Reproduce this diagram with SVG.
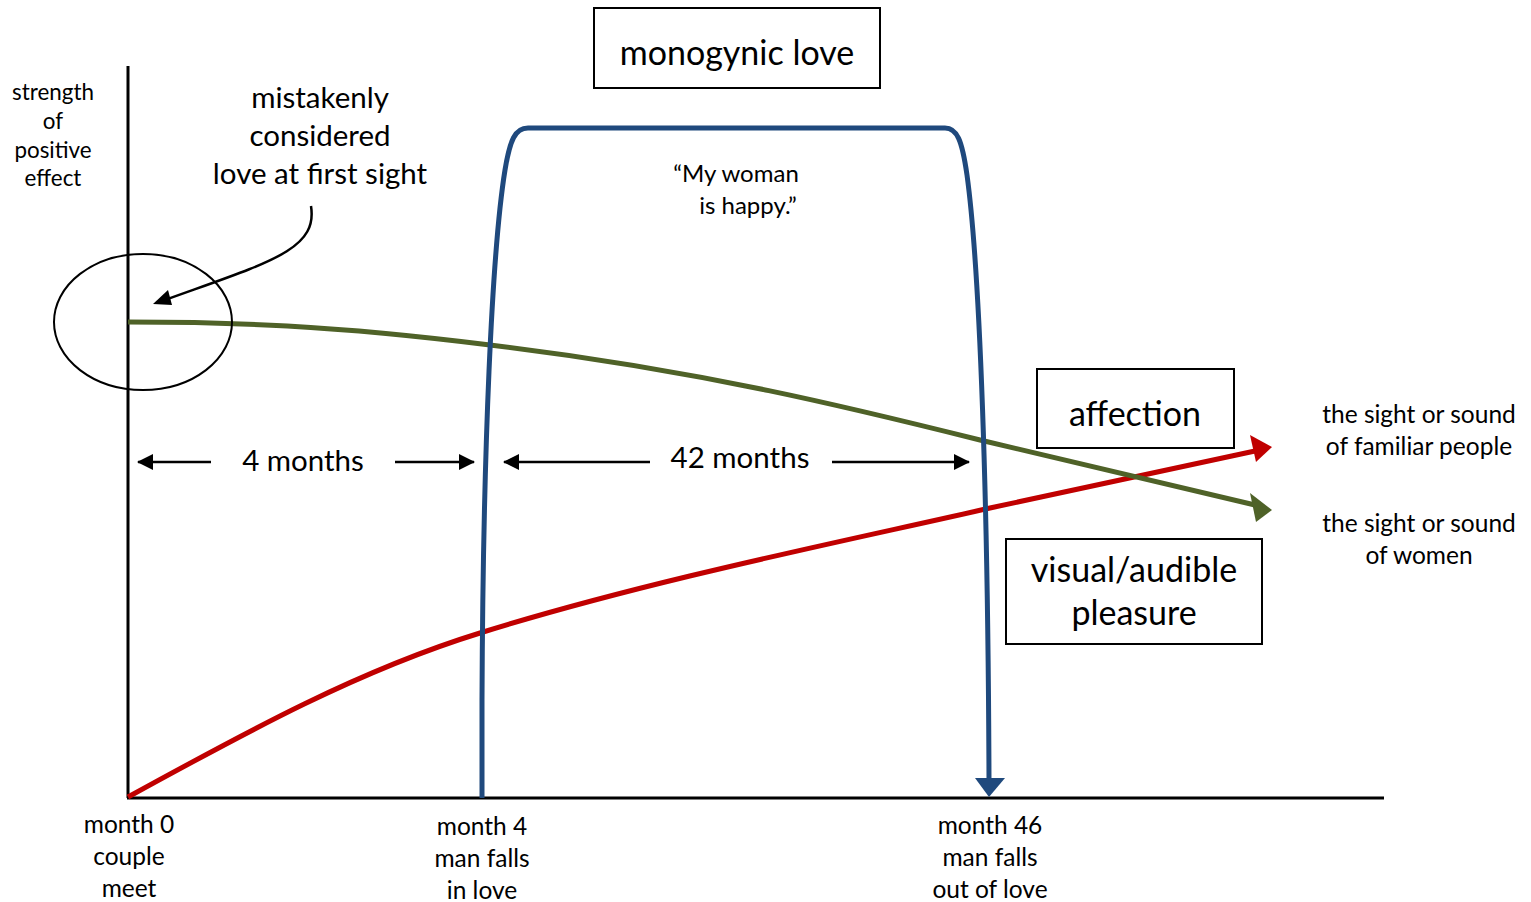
<svg xmlns="http://www.w3.org/2000/svg" width="1531" height="902" viewBox="0 0 1531 902">
<defs>
<style>
text{font-family:Lato,"Open Sans","Liberation Sans",sans-serif;fill:#000;text-anchor:middle}
.box{fill:#fff;stroke:#000;stroke-width:2}
.big{font-size:34px}
.mid{font-size:29.5px}
.sm{font-size:24.5px}
.xs{font-size:22.4px}
.q{font-size:24px}
.axis{stroke:#000;stroke-width:3;fill:none}
.dim{stroke:#000;stroke-width:2.5;fill:none}
</style>
<marker id="ahd" markerWidth="16" markerHeight="16" refX="15" refY="8" orient="auto" markerUnits="userSpaceOnUse" viewBox="0 0 16 16"><path d="M0,0 L16,8 L0,16 z" fill="#000"/></marker>
</defs>
<g id="axes">
<line class="axis" x1="128" y1="66" x2="128" y2="798"/>
<line class="axis" x1="127" y1="798" x2="1384" y2="798"/>
</g>
<g id="connectors">
<path d="M128,797 C250,730 360,670 480,633 C650,580 850,540 990,508 L1255,451" fill="none" stroke="#C00000" stroke-width="5"/>
<path d="M1272,447 L1250,435 L1256,462 z" fill="#C00000"/>
<path d="M128,322 C230,322 330,325 490,345 C700,370 860,410 980,440 L1255,505" fill="none" stroke="#4F6228" stroke-width="5"/>
<path d="M1272,510 L1256,522 L1250,493 z" fill="#4F6228"/>
<path d="M482,798 L482,700 C483,450 492,250 505,170 C510,140 515,128 528,128 L945,128 C957,128 962,140 967,175 C980,270 988,500 989,780" fill="none" stroke="#1F497D" stroke-width="5"/>
<path d="M975,778 L1005,778 L989,797 z" fill="#1F497D"/>
<path class="dim" d="M211,462 L138,462" marker-end="url(#ahd)"/>
<path class="dim" d="M395,462 L474,462" marker-end="url(#ahd)"/>
<path class="dim" d="M650,462 L504,462" marker-end="url(#ahd)"/>
<path class="dim" d="M832,462 L969,462" marker-end="url(#ahd)"/>
<path d="M311,206 C318,250 270,262 165,300" fill="none" stroke="#000" stroke-width="2.5"/>
<path d="M153,304 L168,290 L172,305 z" fill="#000"/>
</g>
<g id="ellipse-node"><ellipse cx="143" cy="322" rx="89" ry="68" fill="none" stroke="#000" stroke-width="2"/></g>
<g id="ylabel">
<text class="xs" x="53" y="100">strength</text>
<text class="xs" x="53" y="129">of</text>
<text class="xs" x="53" y="158">positive</text>
<text class="xs" x="53" y="186">effect</text>
</g>
<g id="callout">
<text class="mid" x="320" y="108">mistakenly</text>
<text class="mid" x="320" y="146">considered</text>
<text class="mid" x="320" y="184">love at first sight</text>
</g>
<g id="monogynic">
<rect class="box" x="594" y="8" width="286" height="80"/>
<text class="big" x="737" y="65">monogynic love</text>
</g>
<g id="quote">
<text class="q" x="736" y="182">“My woman</text>
<text class="q" x="748" y="214">is happy.”</text>
</g>
<g id="affection">
<rect class="box" x="1037" y="369" width="197" height="79"/>
<text class="big" x="1135" y="426">affection</text>
</g>
<g id="pleasure">
<rect class="box" x="1006" y="539" width="256" height="105"/>
<text class="big" x="1134" y="582">visual/audible</text>
<text class="big" x="1134" y="625">pleasure</text>
</g>
<g id="familiar">
<text class="sm" x="1419" y="423">the sight or sound</text>
<text class="sm" x="1419" y="455">of familiar people</text>
</g>
<g id="women">
<text class="sm" x="1419" y="532">the sight or sound</text>
<text class="sm" x="1419" y="564">of women</text>
</g>
<g id="durations">
<text class="mid" x="303" y="471">4 months</text>
<text class="mid" x="740" y="468">42 months</text>
</g>
<g id="month0">
<text class="sm" x="129" y="833">month 0</text>
<text class="sm" x="129" y="865">couple</text>
<text class="sm" x="129" y="897">meet</text>
</g>
<g id="month4">
<text class="sm" x="482" y="835">month 4</text>
<text class="sm" x="482" y="867">man falls</text>
<text class="sm" x="482" y="899">in love</text>
</g>
<g id="month46">
<text class="sm" x="990" y="834">month 46</text>
<text class="sm" x="990" y="866">man falls</text>
<text class="sm" x="990" y="898">out of love</text>
</g>
</svg>
